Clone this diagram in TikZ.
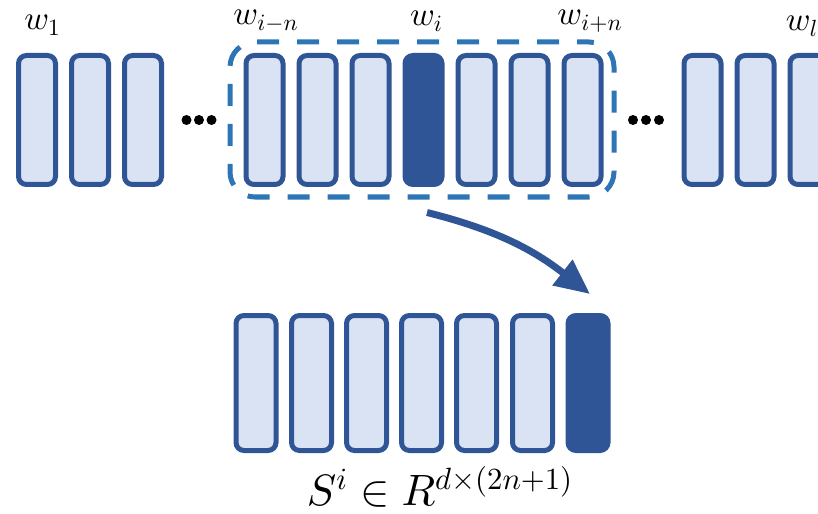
\documentclass[tikz,border=0pt]{standalone}
\usepackage{tikz}
\usetikzlibrary{arrows.meta,calc}
\usepackage{xcolor}

% scalable math fonts for the large labels
\DeclareFontShape{OML}{cmm}{m}{it}{<-> cmmi10}{}
\DeclareFontShape{OMS}{cmsy}{m}{n}{<-> cmsy10}{}
\DeclareFontShape{OT1}{cmr}{m}{n}{<-> cmr10}{}

\definecolor{vecBlue}{HTML}{2F5597}
\definecolor{vecFill}{HTML}{DAE3F3}
\definecolor{winBlue}{HTML}{2E75B6}

\begin{document}
\begin{tikzpicture}[%
    wordVec/.style={
      rectangle,
      draw=vecBlue,
      line width=0.1cm,
      fill=vecFill,
      rounded corners=0.16cm,
      minimum width=0.74cm,
      minimum height=2.58cm,
      inner sep=0pt
    },
    centerVec/.style={
      wordVec,
      fill=vecBlue
    },
    sentVec/.style={
      wordVec,
      minimum width=0.8cm,
      minimum height=2.7cm
    },
    sentCenter/.style={
      sentVec,
      fill=vecBlue
    },
    windowBox/.style={
      rectangle,
      draw=winBlue,
      line width=0.1cm,
      dash pattern=on 0.44cm off 0.36cm,
      dash phase=0.2cm,
      rounded corners=0.5cm,
      minimum width=7.68cm,
      minimum height=3.1cm
    },
    wordName/.style={
      anchor=base,
      inner sep=0pt,
      font=\fontsize{19}{23}\selectfont
    },
    bigDot/.style={
      circle,
      fill=black,
      inner sep=0pt,
      minimum size=0.2cm
    }
  ]

    % page frame
    \clip (0,0) rectangle (16.36,-10.28);

    % context window
    \node[windowBox] (win) at (8.44,-2.39) {};

    % word vectors of the sentence
    \draw (0.74,-2.4) node[wordVec] (A) {}
          (1.80,-2.4) node[wordVec] (B) {}
          (2.86,-2.4) node[wordVec] (C) {}
          (5.29,-2.4) node[wordVec] (D) {}
          (6.35,-2.4) node[wordVec] (E) {}
          (7.41,-2.4) node[wordVec] (F) {}
          (8.47,-2.4) node[centerVec] (G) {}
          (9.53,-2.4) node[wordVec] (H) {}
          (10.59,-2.4) node[wordVec] (I) {}
          (11.65,-2.4) node[wordVec] (J) {}
          (14.05,-2.4) node[wordVec] (K) {}
          (15.11,-2.4) node[wordVec] (L) {}
          (16.17,-2.4) node[wordVec] (M) {};

    % dots between the groups
    \draw (3.73,-2.4) node[bigDot] (d1) {}
          (3.98,-2.4) node[bigDot] (d2) {}
          (4.23,-2.4) node[bigDot] (d3) {}
          (12.66,-2.4) node[bigDot] (d4) {}
          (12.92,-2.4) node[bigDot] (d5) {}
          (13.18,-2.4) node[bigDot] (d6) {};

    % word names
    \draw (0.85,-0.6) node[wordName] (W1) {$w_1$}
          (5.32,-0.5) node[wordName] (W2) {$w_{i-n}$}
          (8.53,-0.52) node[wordName] (W3) {$w_i$}
          (11.8,-0.5) node[wordName] (W4) {$w_{i+n}$}
          (16.04,-0.62) node[wordName] (W5) {$w_l$};

    % stacked window
    \draw (5.12,-7.66) node[sentVec] (N) {}
          (6.23,-7.66) node[sentVec] (O) {}
          (7.33,-7.66) node[sentVec] (P) {}
          (8.43,-7.66) node[sentVec] (Q) {}
          (9.53,-7.66) node[sentVec] (R) {}
          (10.65,-7.66) node[sentVec] (S) {}
          (11.76,-7.66) node[sentCenter] (T) {};

    \node[anchor=base, inner sep=0pt, font=\fontsize{25}{30}\selectfont] (X)
          at (8.8,-10.1) {$S^i \in R^{d\times(2n+1)}$};

    \draw[vecBlue, line width=0.14cm, -{Triangle[length=0.7cm,width=0.62cm]}]
          ([xshift=0.1cm,yshift=-0.26cm]win.south) to[out=-14,in=142]
          ([xshift=0.04cm,yshift=0.38cm]T.north);
\end{tikzpicture}
\end{document}
